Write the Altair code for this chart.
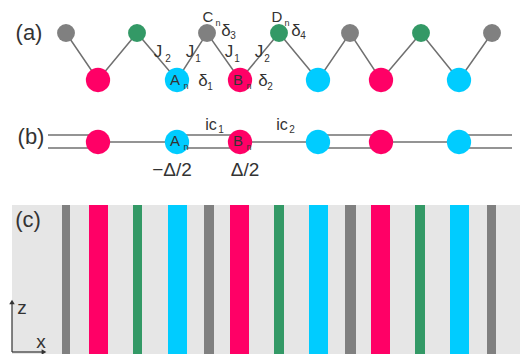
import altair as alt
import pandas as pd

# ---------------- data ----------------
RED = "#ff0066"
CYAN = "#00ccff"
GREEN = "#339966"
GRAY = "#808080"

top_x = [66, 137, 207, 279, 350, 421, 492]
top_colors = [GRAY, GREEN, GRAY, GREEN, GRAY, GREEN, GRAY]
bottom_x = [98, 177, 240, 318, 381, 459]
bottom_colors = [RED, CYAN, RED, CYAN, RED, CYAN]
top_y = 33
bottom_y = 80
b_y = 142

double_starts = [48, 177, 318, 460]
double_ends = [98, 240, 382, 512]
double_ys = [135, 148]
single_starts = [98, 240, 381]
single_ends = [177, 318, 459]

stripe_x0 = [62, 89, 133, 168, 204, 230, 274, 309, 345, 371, 415, 450, 487]
stripe_x1 = [70, 108, 142, 187, 214, 249, 284, 328, 356, 390, 425, 469, 496]
stripe_colors = [GRAY, RED, GREEN, CYAN, GRAY, RED, GREEN, CYAN, GRAY, RED, GREEN, CYAN, GRAY]

label_text = ["(a)", "(b)", "(c)",
              "J", "2", "J", "1", "J", "1", "J", "2",
              "C", "n", "δ", "3", "D", "n", "δ", "4",
              "A", "n", "δ", "1", "B", "n", "δ", "2",
              "A", "n", "B", "n", "ic", "1", "ic", "2",
              "−Δ/2", "Δ/2", "z", "x"]
label_x = [29, 31, 28,
           158, 168, 190, 198, 229, 237, 259, 267,
           208, 218, 226, 233, 277, 287, 296, 303,
           175, 186, 203, 210, 238, 249, 263, 270,
           175, 186, 238, 249, 211, 221, 282, 292,
           172, 245, 22, 41]
label_y = [33, 137, 220,
           52, 59, 52, 59, 52, 59, 52, 59,
           17, 23, 31, 36, 17, 23, 31, 36,
           80, 86, 81, 87, 80, 86, 81, 87,
           141, 147, 141, 147, 125, 130, 125, 130,
           170, 170, 308, 342]
label_size = [22, 22, 22,
              17, 10, 17, 10, 17, 10, 17, 10,
              15, 9, 17, 10, 15, 9, 17, 10,
              15, 9, 17, 10, 15, 9, 17, 10,
              15, 9, 15, 9, 16, 10, 16, 10,
              19, 19, 19, 19]

# ---------------- tables ----------------
xs = alt.Scale(domain=[8, 520], nice=False, zero=False)
ys = alt.Scale(domain=[8, 354], nice=False, zero=False, reverse=True)

zig_x, zig_y = [], []
for i in range(len(top_x)):
    zig_x.append(top_x[i]); zig_y.append(top_y)
    if i < len(bottom_x):
        zig_x.append(bottom_x[i]); zig_y.append(bottom_y)
zig = pd.DataFrame({"x": zig_x, "y": zig_y, "o": list(range(len(zig_x)))})

seg_rows = []
k = 0
for s, e in zip(double_starts, double_ends):
    for yy in double_ys:
        seg_rows.append({"x": s, "y": yy, "seg": k, "o": 0})
        seg_rows.append({"x": e, "y": yy, "seg": k, "o": 1})
        k += 1
for s, e in zip(single_starts, single_ends):
    seg_rows.append({"x": s, "y": b_y, "seg": k, "o": 0})
    seg_rows.append({"x": e, "y": b_y, "seg": k, "o": 1})
    k += 1
segs = pd.DataFrame(seg_rows)

circ_rows = []
for x, c in zip(top_x, top_colors):
    circ_rows.append({"x": x, "y": top_y, "c": c, "s": 320})
for x, c in zip(bottom_x, bottom_colors):
    circ_rows.append({"x": x, "y": bottom_y, "c": c, "s": 590})
    circ_rows.append({"x": x, "y": b_y, "c": c, "s": 590})
circs = pd.DataFrame(circ_rows)

stripes = pd.DataFrame({"x": stripe_x0, "x2": stripe_x1, "c": stripe_colors,
                        "y": [205] * len(stripe_x0), "y2": [354] * len(stripe_x0)})
bg = pd.DataFrame({"x": [12], "x2": [520], "y": [205], "y2": [354]})
labels = pd.DataFrame({"t": label_text, "x": label_x, "y": label_y, "s": label_size})

axis_lines = pd.DataFrame({"x": [12, 12], "x2": [12, 43], "y": [303, 352], "y2": [352, 352]})
heads = pd.DataFrame({"x": [12, 44], "y": [302, 352], "sh": ["triangle-up", "triangle-right"]})

X = lambda f="x": alt.X(f"{f}:Q", scale=xs, axis=None)
Y = lambda f="y": alt.Y(f"{f}:Q", scale=ys, axis=None)

bg_l = alt.Chart(bg).mark_rect(color="#e6e6e6").encode(
    x=X(), x2="x2:Q", y=Y(), y2="y2:Q")
stripe_l = alt.Chart(stripes).mark_rect().encode(
    x=X(), x2="x2:Q", y=Y(), y2="y2:Q", color=alt.Color("c:N", scale=None))
zig_l = alt.Chart(zig).mark_line(color="#707070", strokeWidth=1.5).encode(
    x=X(), y=Y(), order="o:Q")
seg_l = alt.Chart(segs).mark_line(color="#707070", strokeWidth=1.3).encode(
    x=X(), y=Y(), detail="seg:N", order="o:Q")
circ_l = alt.Chart(circs).mark_circle(opacity=1).encode(
    x=X(), y=Y(), color=alt.Color("c:N", scale=None), size=alt.Size("s:Q", scale=None))
text_l = alt.Chart(labels).mark_text(font="Liberation Sans", color="#333333",
                                     baseline="middle", align="center").encode(
    x=X(), y=Y(), text="t:N", size=alt.Size("s:Q", scale=None))
axl = alt.Chart(axis_lines).mark_rule(color="#333333", strokeWidth=1.2).encode(
    x=X(), x2="x2:Q", y=Y(), y2="y2:Q")
head_l = alt.Chart(heads).mark_point(filled=True, color="#333333", size=30, opacity=1).encode(
    x=X(), y=Y(), shape=alt.Shape("sh:N", scale=None))

chart = alt.layer(bg_l, stripe_l, zig_l, seg_l, circ_l, text_l, axl, head_l).properties(
    width=512, height=346, padding=0, autosize="none"
).configure_view(stroke=None)

chart.save("out.html", embed_options={"renderer": "svg", "actions": False})
